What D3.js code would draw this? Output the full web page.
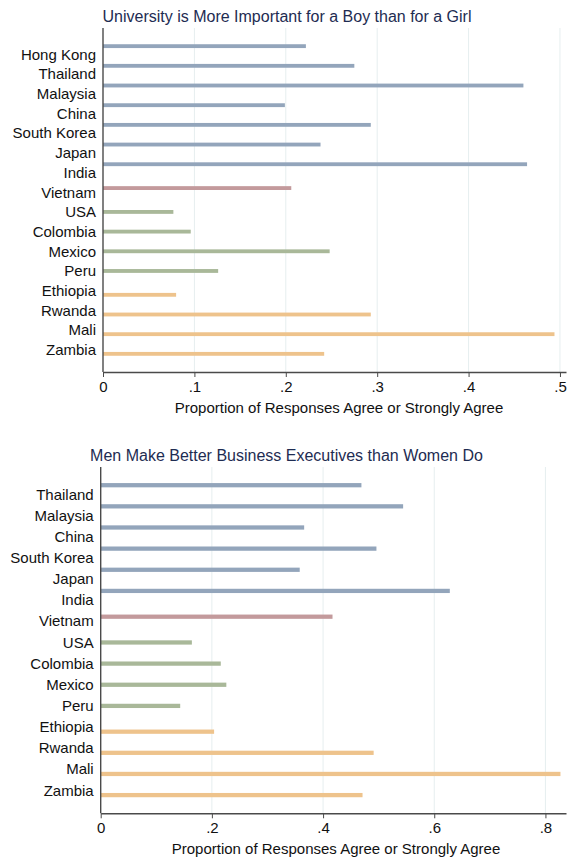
<!DOCTYPE html>
<html><head><meta charset="utf-8">
<script src="https://cdn.jsdelivr.net/npm/d3@7"></script>
<style>body{margin:0;background:#fff}svg{display:block;font-family:"Liberation Sans",Arial,Helvetica,sans-serif}</style>
</head><body><svg id="c" width="570" height="862"></svg>
<script>
const series = ["Asia", "Vietnam", "Americas", "Africa"];
const seriesColors = ["#93a5bb", "#c39a9c", "#a9b899", "#eec38c"];

const countries1 = ["Hong Kong","Thailand","Malaysia","China","South Korea","Japan","India","Vietnam","USA","Colombia","Mexico","Peru","Ethiopia","Rwanda","Mali","Zambia"];
const group1 = [0,0,0,0,0,0,0,1,2,2,2,2,3,3,3,3];
const values1 = [0.222,0.275,0.460,0.199,0.293,0.238,0.464,0.206,0.077,0.096,0.248,0.126,0.080,0.293,0.494,0.242];
const ticks1 = [0,0.1,0.2,0.3,0.4,0.5];
const tickLabels1 = ["0",".1",".2",".3",".4",".5"];

const countries2 = ["Thailand","Malaysia","China","South Korea","Japan","India","Vietnam","USA","Colombia","Mexico","Peru","Ethiopia","Rwanda","Mali","Zambia"];
const group2 = [0,0,0,0,0,0,1,2,2,2,2,3,3,3,3];
const values2 = [0.469,0.544,0.366,0.496,0.358,0.628,0.417,0.164,0.216,0.226,0.143,0.204,0.491,0.827,0.471];
const ticks2 = [0,0.2,0.4,0.6,0.8];
const tickLabels2 = ["0",".2",".4",".6",".8"];

const title1 = "University is More Important for a Boy than for a Girl";
const title2 = "Men Make Better Business Executives than Women Do";
const xTitle = "Proportion of Responses Agree or Strongly Agree";

const svg = d3.select("#c");

function panel(o) {
  const g = svg.append("g");
  const x = d3.scaleLinear().domain(o.xdom).range([o.left, o.right]);
  const y0 = d3.scaleBand().domain(o.countries).range([o.top, o.bottom]).paddingInner(0).paddingOuter(o.pOuter);
  const y1 = d3.scaleBand().domain(d3.range(series.length)).range([0, y0.bandwidth()]).paddingInner(0.08).paddingOuter(o.pSub);

  g.selectAll("line.grid").data(o.ticks.filter(t => t > 0)).join("line")
    .attr("x1", d => x(d)).attr("x2", d => x(d))
    .attr("y1", o.top).attr("y2", o.bottom)
    .attr("stroke", "#e6eeef").attr("stroke-width", 1);

  g.selectAll("rect.bar").data(o.countries.map((c, i) => ({c, s: o.group[i], v: o.values[i]}))).join("rect")
    .attr("x", x(0)).attr("width", d => x(d.v) - x(0))
    .attr("y", d => y0(d.c) + y1(d.s)).attr("height", y1.bandwidth())
    .attr("fill", d => seriesColors[d.s]);

  g.selectAll("text.lab").data(o.countries).join("text")
    .attr("x", o.left - 7).attr("y", d => y0(d) + y0.bandwidth() / 2 + o.labShift)
    .attr("dy", "0.35em").attr("text-anchor", "end")
    .attr("font-size", o.fs).attr("fill", "#111").text(d => d);

  g.append("line").attr("x1", x(0)).attr("x2", x(0)).attr("y1", o.top).attr("y2", o.bottom)
    .attr("stroke", "#4a4a4a").attr("stroke-width", 1.4);
  const ax = d3.axisBottom(x).tickValues(o.ticks).tickFormat((d, i) => o.tickLabels[i]).tickSize(5).tickPadding(4).tickSizeOuter(0);
  const axg = g.append("g").attr("transform", `translate(0,${o.bottom})`).call(ax);
  axg.select(".domain").attr("stroke", "#4a4a4a").attr("stroke-width", 1.4);
  axg.selectAll(".tick line").attr("stroke", "#4a4a4a");
  axg.selectAll(".tick text").attr("font-size", o.fs).attr("fill", "#111").attr("font-family", null);

  g.append("text").attr("x", o.xTitleX).attr("y", o.bottom + 41).attr("text-anchor", "middle")
    .attr("font-size", o.fs).attr("fill", "#111").text(xTitle);
  g.append("text").attr("x", o.titleX).attr("y", o.top - 6).attr("text-anchor", "middle")
    .attr("font-size", o.tfs).attr("fill", "#1e2c52").text(o.title);
}

panel({countries: countries1, group: group1, values: values1, ticks: ticks1, tickLabels: tickLabels1,
  xdom: [0, 0.5066], left: 103, right: 566, top: 28, bottom: 372, pOuter: 0.74, pSub: 0.4, labShift: 2.1,
  fs: 15, tfs: 16, title: title1, titleX: 287, xTitleX: 339});
panel({countries: countries2, group: group2, values: values2, ticks: ticks2, tickLabels: tickLabels2,
  xdom: [0, 0.837], left: 100.7, right: 566, top: 467, bottom: 813.3, pOuter: 0.69, pSub: 0.32, labShift: 2.2,
  fs: 15, tfs: 16, title: title2, titleX: 286.5, xTitleX: 336});
</script></body></html>
